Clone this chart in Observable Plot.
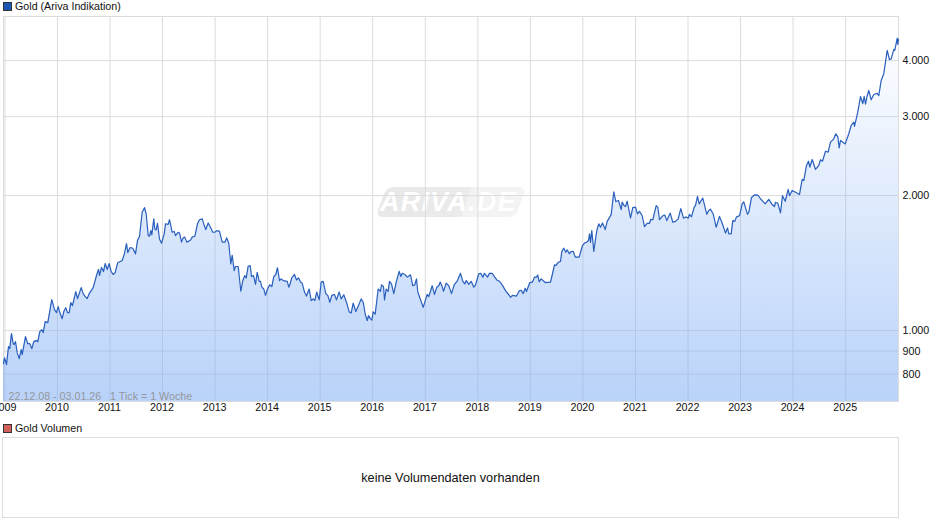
<!DOCTYPE html>
<html><head><meta charset="utf-8">
<script src="https://cdn.jsdelivr.net/npm/d3@7"></script>
<script src="https://cdn.jsdelivr.net/npm/@observablehq/plot@0.6"></script>
<style>
html,body{margin:0;padding:0;background:#fff;width:940px;height:526px;overflow:hidden;font-family:"Liberation Sans",Arial,sans-serif;color:#111}
.legend{position:absolute;left:3px;font-size:10.7px;line-height:12px;height:12px;white-space:nowrap}
.legend i{display:inline-block;width:7px;height:7px;border:1px solid #333;margin-right:3px;vertical-align:-0.5px}
#chart{position:absolute;left:0;top:12px}
#wm{position:absolute;left:381px;top:187px;width:140px;height:30px;background:linear-gradient(90deg,#e8e8e8 0%,#ebebeb 60%,#f3f3f3 62%,#f4f4f4 100%);border-radius:7px;transform:skewX(-20deg)}
#wmt{position:absolute;left:380px;top:188px;width:136px;height:28px;text-align:center;font:italic bold 27px/29px "Liberation Sans",sans-serif;color:#fff;letter-spacing:1.2px}
#vol{position:absolute;left:2px;top:437px;width:895px;height:79px;border:1px solid #ddd;text-align:center;font-size:12.7px;line-height:80px}
</style></head><body>
<div class="legend" style="top:0"><i style="background:#1b57b5"></i>Gold (Ariva Indikation)</div>
<div id="wm"></div><div id="wmt">ARIVA.DE</div>
<div id="chart"></div>
<div class="legend" style="top:422px"><i style="background:#d4605c"></i>Gold Volumen</div>
<div id="vol">keine Volumendaten vorhanden</div>
<script>
const startDate = "2008-12-22", endDate = "2026-01-03";
const tickSpan = 895; // number of ticks along the time axis
const years = [2009,2010,2011,2012,2013,2014,2015,2016,2017,2018,2019,2020,2021,2022,2023,2024,2025];
const priceTicks = [800,900,1000,2000,3000,4000];
const priceDomain = [695,5016];
const rangeNote = "22.12.08 - 03.01.26   1 Tick = 1 Woche";

// [tick, price in USD]
const gold2009 = [[0,844],[1,870],[3,840],[5,921],[6.3,912],[8,985],[9.7,935],[10.7,931],[12,945],[13.7,893],[15.7,866],[17.7,907],[18.7,884],[22,970],[24.3,935],[26.3,935],[28.3,912],[30.3,945],[32.3,950],[34.3,945],[36.3,995],[38.3,1005],[39.7,990],[41.7,1047],[44.3,1042],[48.3,1173],[51,1114]];
const gold2010 = [[53,1097],[54.7,1131],[56.3,1097],[58.7,1063],[60.3,1103],[62.3,1125],[64,1097],[65.7,1097],[67.3,1155],[69,1137],[72.3,1222],[74,1179],[75.7,1209],[77.7,1247],[79.7,1209],[81.7,1191],[83.7,1179],[85.7,1209],[89.7,1247],[93,1327],[95,1369],[96,1327],[98,1383],[100,1354],[101.7,1411],[103.7,1369]];
const gold2011 = [[105.7,1411],[107.7,1354],[109.7,1334],[111.7,1347],[114.3,1419],[117,1426],[118.7,1433],[121,1485],[123,1564],[124.3,1493],[126.7,1532],[129.3,1526],[132,1483],[134,1588],[136,1621],[138.7,1836],[141,1880],[142.7,1820],[144.7,1629],[146,1623],[147.3,1671],[148.3,1635],[150.3,1775],[151.3,1685],[152.7,1677],[154,1735],[156,1601]];
const gold2012 = [[158,1566],[160.7,1643],[162,1730],[164.7,1725],[166,1767],[168.7,1657],[170.7,1664],[172,1629],[174.7,1657],[176,1651],[178,1575],[179.7,1610],[181.3,1616],[183.3,1575],[185.3,1583],[187.3,1594],[188.7,1616],[191.3,1623],[194,1730],[196,1767],[198.7,1775],[200.7,1717],[202.3,1680],[204.7,1738],[207,1700],[209.3,1657]];
const gold2013 = [[211.3,1657],[213.3,1671],[216,1664],[218.7,1575],[221.3,1575],[223.3,1610],[225.3,1562],[227.3,1409],[228.7,1471],[230.7,1361],[232,1390],[234.7,1390],[237.3,1224],[239.3,1293],[241.3,1326],[242.7,1310],[244.7,1392],[246.7,1397],[248,1320],[250,1326],[252,1268],[253.7,1349],[255.7,1288],[257,1288],[258.3,1250],[260.3,1238],[262,1198]];
const gold2014 = [[264.3,1243],[266.3,1265],[268.3,1254],[270.3,1320],[272.3,1334],[274,1381],[276,1293],[277.7,1304],[279.7,1293],[283.7,1288],[285.3,1250],[286.3,1265],[288.3,1311],[291,1334],[293,1297],[295,1311],[297,1283],[298.7,1276],[301,1219],[303,1194],[305.7,1238],[307.7,1167],[309.7,1177],[311.3,1167],[313.3,1219]];
const gold2015 = [[315.7,1171],[317.7,1283],[319.7,1288],[322.3,1209],[324.3,1198],[326.3,1157],[328.3,1198],[331,1204],[333,1171],[335.7,1219],[337.7,1177],[340.3,1202],[343,1157],[345.7,1101],[347.7,1095],[349.7,1151],[352.3,1103],[355,1137],[357.7,1177],[359.7,1157],[361.7,1089],[363.7,1053],[365,1080],[367,1062],[368.3,1056]];
const gold2016 = [[369.7,1101],[371.7,1089],[374.7,1238],[377,1224],[378,1265],[380,1254],[381,1171],[382.7,1238],[384.7,1224],[386,1288],[388,1271],[390.3,1209],[392.7,1283],[395.7,1356],[397.3,1320],[398.7,1342],[401.3,1334],[404,1316],[407,1332],[409.3,1259],[411.3,1265],[413,1304],[414.3,1219],[417.3,1167],[419.7,1127]];
const gold2017 = [[422,1171],[423.7,1204],[425.3,1191],[428.7,1259],[431,1204],[433.3,1250],[435.3,1259],[436.7,1283],[438.7,1254],[440,1224],[442.7,1276],[445.3,1259],[448,1209],[450.7,1265],[454,1293],[457,1342],[459.3,1288],[461.3,1271],[462.7,1293],[465.3,1268],[467.7,1288],[470.3,1250],[472,1265]];
const gold2018 = [[475.3,1339],[477.3,1342],[479.3,1316],[481,1342],[484,1316],[486,1342],[488.7,1342],[491.3,1316],[493.3,1297],[496,1288],[498.7,1265],[502,1228],[506.3,1194],[507,1186],[509,1198],[513,1194],[515.7,1226],[517.7,1230],[519.7,1209],[521.7,1243],[523,1222],[526.3,1280]];
const gold2019 = [[529,1283],[531,1316],[533,1316],[534.3,1331],[535.7,1285],[537.7,1304],[541.7,1280],[547,1283],[549,1339],[551,1402],[552.3,1397],[555,1421],[557,1426],[558.3,1501],[560.3,1527],[562.3,1495],[563.7,1514],[565.7,1484],[567.7,1501],[569.7,1503],[571.7,1459],[575.7,1459],[579,1548]];
const gold2020 = [[581,1568],[583,1573],[585,1588],[586,1643],[587,1573],[588.3,1671],[590.3,1501],[592.3,1616],[593.7,1685],[595.3,1730],[597,1700],[599,1738],[601.7,1680],[603.7,1752],[607.7,1814],[610.3,2040],[612.3,1940],[615,1950],[617.7,1861],[618.7,1935],[620.3,1903],[622,1891],[623.7,1943],[627,1781],[629.3,1880],[632,1885]];
const gold2021 = [[634,1820],[636,1845],[638.7,1803],[641,1706],[643.7,1735],[646,1735],[647.3,1771],[649.3,1767],[652.7,1900],[654.3,1885],[656,1767],[659.3,1803],[661.3,1810],[663.3,1759],[666.7,1828],[669.3,1744],[672,1752],[674.7,1775],[677.3,1870],[680,1781],[682.7,1793]];
const gold2022 = [[684.7,1781],[686,1817],[688,1793],[690.7,1885],[692,1903],[694,1993],[695.7,1917],[699.3,1975],[702,1865],[703.3,1817],[705.3,1852],[707,1865],[709.7,1820],[712.7,1700],[716,1798],[718.7,1735],[722,1650],[724,1694],[725.3,1643],[727.7,1643],[729.3,1759],[731.3,1752],[733,1793]];
const gold2023 = [[736,1803],[738.7,1917],[740.3,1936],[744,1817],[745.3,1836],[748,1980],[751,2007],[754.3,2004],[757,1968],[761.7,1917],[765.3,1962],[768.7,1910],[771,1891],[772,1933],[774.3,1923],[777,1830],[779,1999],[781.7,1943],[784.7,2064],[786,1999],[788.7,2053]];
const gold2024 = [[792,2035],[796,2012],[798.7,2173],[800.3,2161],[803,2335],[805,2386],[806.3,2314],[808.7,2407],[812,2287],[815.3,2335],[817,2404],[819,2386],[822,2512],[824.7,2500],[827,2631],[830.3,2677],[832.3,2747],[834.3,2704],[835.7,2556],[837,2654],[841.7,2608]];
const gold2025 = [[845.3,2747],[847.7,2867],[850.3,2915],[851,2855],[854.3,3070],[857,3326],[859.3,3205],[860.7,3330],[862,3197],[863.7,3340],[865.3,3431],[867.7,3270],[870.3,3360],[873.7,3380],[875.3,3340],[877.7,3612],[880.3,3740],[883.7,4214],[886,4017],[887.7,4037],[890.3,4236],[891.3,4214],[893.7,4490],[894.3,4345],[895,4460]];

const t0 = new Date(startDate + "T00:00:00Z"), t1 = new Date(endDate + "T00:00:00Z");
const rows = [...gold2009,...gold2010,...gold2011,...gold2012,...gold2013,...gold2014,...gold2015,...gold2016,...gold2017,...gold2018,...gold2019,...gold2020,...gold2021,...gold2022,...gold2023,...gold2024,...gold2025]
  .map(([k,price]) => ({date:new Date(+t0 + (t1-t0)*k/tickSpan), price}));
const yearDates = years.map(y => new Date(Date.UTC(y,0,1)));
const fmt = d3.formatLocale({decimal:",",thousands:".",grouping:[3],currency:["","€"]}).format(",d");

const grid = "#dcdcdc";
const defs = (index, {y}) => {
  const d = d3.create("svg:defs");
  const g = d.append("linearGradient").attr("id","goldFill").attr("gradientUnits","userSpaceOnUse")
    .attr("x1",0).attr("x2",0).attr("y1",y(4600)).attr("y2",y(priceDomain[0]));
  g.append("stop").attr("offset",0).attr("stop-color","#82aff5").attr("stop-opacity",0);
  g.append("stop").attr("offset",1).attr("stop-color","#82aff5").attr("stop-opacity",0.56);
  return d.node();
};
const plot = Plot.plot({
  width:940, height:408, marginTop:4, marginLeft:3, marginRight:42, marginBottom:19,
  style:{background:"transparent",fontFamily:'"Liberation Sans",Arial,sans-serif',fontSize:"10.7px",color:"#111",overflow:"hidden"},
  x:{type:"utc",domain:[t0,t1]},
  y:{type:"log",domain:priceDomain},
  marks:[
    defs,
    Plot.gridX(yearDates,{stroke:grid,strokeOpacity:1}),
    Plot.gridY(priceTicks,{stroke:grid,strokeOpacity:1}),
    Plot.frame({stroke:grid}),
    Plot.areaY(rows,{x:"date",y1:()=>priceDomain[0],y2:"price",fill:"url(#goldFill)"}),
    Plot.lineY(rows,{x:"date",y:"price",stroke:"#2a60bd",strokeWidth:1.2}),
    Plot.text([rangeNote],{frameAnchor:"bottom-left",dx:5,dy:-2,fill:"#8f8f8f",fillOpacity:0.9,fontSize:10.7,style:"white-space:pre"}),
    Plot.axisX(yearDates,{anchor:"bottom",tickSize:0,tickPadding:2,dx:-0.5,tickFormat:d3.utcFormat("%Y"),label:null,fontSize:10.7}),
    Plot.axisY(priceTicks,{anchor:"right",tickSize:0,tickPadding:4,tickFormat:fmt,label:null,fontSize:10.7})
  ]
});
document.getElementById("chart").appendChild(plot);
</script></body></html>
